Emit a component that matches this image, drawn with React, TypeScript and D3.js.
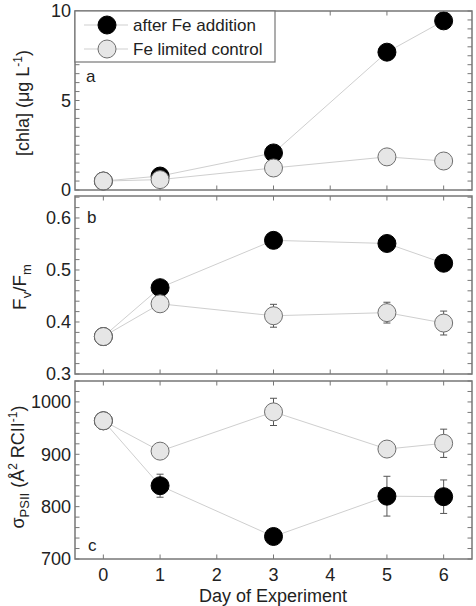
import React from "react";
import * as d3 from "d3";

const days = [0, 1, 3, 5, 6];
const xTicks = [0, 1, 2, 3, 4, 5, 6];
const seriesNames = ["after Fe addition", "Fe limited control"];

const chlaFe = [0.5, 0.78, 2.07, 7.7, 9.45];
const chlaCtl = [0.5, 0.58, 1.23, 1.85, 1.62];

const fvfmFe = [0.372, 0.466, 0.557, 0.551, 0.513];
const fvfmCtl = [0.372, 0.435, 0.412, 0.418, 0.398];
const fvfmFeErr = [0, 0, 0, 0, 0];
const fvfmCtlErr = [0, 0, 0.022, 0.02, 0.023];

const sigFe = [964, 840, 743, 820, 819];
const sigCtl = [964, 906, 981, 910, 921];
const sigFeErr = [0, 22, 0, 38, 32];
const sigCtlErr = [0, 0, 26, 0, 27];

const chlaTicks = [0, 5, 10];
const fvfmTicks = [0.3, 0.4, 0.5, 0.6];
const sigTicks = [700, 800, 900, 1000];

const W = 476;
const H = 606;
const L = 75;
const R = 472;
const FONT = "Liberation Sans, Arial, sans-serif";
const FRAME = "#777";
const LINE = "#cfcfcf";
const GRAYFILL = "#e6e6e6";
const GRAYSTROKE = "#6e6e6e";
const TXT = "#222";

const x = d3.scaleLinear().domain([-0.5, 6.5]).range([L, R]);

type PanelProps = {
  top: number;
  bottom: number;
  domain: [number, number];
  ticks: number[];
  minorStep: number;
  fmt: (v: number) => string;
  fe: number[];
  ctl: number[];
  feErr?: number[];
  ctlErr?: number[];
  letter: string;
  letterX: number;
  letterY: number;
};

function Panel(p: PanelProps) {
  const y = d3.scaleLinear().domain(p.domain).range([p.bottom, p.top]);
  const minors = d3
    .range(Math.ceil(p.domain[0] / p.minorStep - 1e-9), Math.floor(p.domain[1] / p.minorStep + 1e-9) + 1)
    .map((i) => i * p.minorStep);
  const line = d3
    .line<number>()
    .x((_, i) => x(days[i]))
    .y((d) => y(d));
  const tl = 4.5;
  const err = (vals: number[], errs: number[] | undefined, key: string) =>
    errs
      ? vals.map((v, i) =>
          errs[i] > 0 ? (
            <g key={key + i} stroke="#555" strokeWidth={1}>
              <line x1={x(days[i])} x2={x(days[i])} y1={y(v - errs[i])} y2={y(v + errs[i])} />
              <line x1={x(days[i]) - 3.5} x2={x(days[i]) + 3.5} y1={y(v - errs[i])} y2={y(v - errs[i])} />
              <line x1={x(days[i]) - 3.5} x2={x(days[i]) + 3.5} y1={y(v + errs[i])} y2={y(v + errs[i])} />
            </g>
          ) : null
        )
      : null;
  return (
    <g>
      {minors.map((v, i) => (
        <g key={"m" + i} stroke={FRAME} strokeWidth={1}>
          <line x1={L} x2={L + tl} y1={y(v)} y2={y(v)} />
          <line x1={R} x2={R - tl} y1={y(v)} y2={y(v)} />
        </g>
      ))}
      {xTicks.map((t) => (
        <g key={"x" + t} stroke={FRAME} strokeWidth={1}>
          <line x1={x(t)} x2={x(t)} y1={p.top} y2={p.top + tl} />
          <line x1={x(t)} x2={x(t)} y1={p.bottom} y2={p.bottom - tl} />
        </g>
      ))}
      {p.ticks.map((t) => (
        <text key={"t" + t} x={L - 4} y={y(t)} dy="0.36em" textAnchor="end" fontSize={18} fontFamily={FONT} fill={TXT}>
          {p.fmt(t)}
        </text>
      ))}
      <path d={line(p.fe) || ""} fill="none" stroke={LINE} strokeWidth={1} />
      <path d={line(p.ctl) || ""} fill="none" stroke={LINE} strokeWidth={1} />
      {err(p.fe, p.feErr, "fe")}
      {err(p.ctl, p.ctlErr, "ctl")}
      {p.fe.map((v, i) => (
        <circle key={"f" + i} cx={x(days[i])} cy={y(v)} r={9} fill="#000" stroke="#000" strokeWidth={1} />
      ))}
      {p.ctl.map((v, i) => (
        <circle key={"c" + i} cx={x(days[i])} cy={y(v)} r={9} fill={GRAYFILL} stroke={GRAYSTROKE} strokeWidth={1} />
      ))}
      <text x={p.letterX} y={p.letterY} dy="0.36em" fontSize={17} fontFamily={FONT} fill={TXT}>
        {p.letter}
      </text>
      <rect x={L} y={p.top} width={R - L} height={p.bottom - p.top} fill="none" stroke={FRAME} strokeWidth={1.5} />
    </g>
  );
}

export default function App() {
  return (
    <svg width={W} height={H} style={{ display: "block", position: "absolute", left: 0, top: 0 }}>
      <rect width={W} height={H} fill="#fff" />
      <Panel
        top={11}
        bottom={190}
        domain={[0, 10]}
        ticks={chlaTicks}
        minorStep={0.5}
        fmt={(v) => String(v)}
        fe={chlaFe}
        ctl={chlaCtl}
        letter="a"
        letterX={86}
        letterY={76}
      />
      <Panel
        top={196}
        bottom={374}
        domain={[0.3, 0.6423]}
        ticks={fvfmTicks}
        minorStep={0.02}
        fmt={(v) => v.toFixed(1)}
        fe={fvfmFe}
        ctl={fvfmCtl}
        feErr={fvfmFeErr}
        ctlErr={fvfmCtlErr}
        letter="b"
        letterX={87}
        letterY={217}
      />
      <Panel
        top={381}
        bottom={559}
        domain={[700, 1040]}
        ticks={sigTicks}
        minorStep={20}
        fmt={(v) => String(v)}
        fe={sigFe}
        ctl={sigCtl}
        feErr={sigFeErr}
        ctlErr={sigCtlErr}
        letter="c"
        letterX={88}
        letterY={545}
      />
      <g fontFamily={FONT} fontSize={17} fill={TXT}>
        <rect x={L} y={11} width={200} height={51} fill="#fff" stroke={FRAME} strokeWidth={1.2} />
        {seriesNames.map((name, i) => (
          <g key={name}>
            <line x1={84} x2={128} y1={25 + i * 24} y2={25 + i * 24} stroke={LINE} strokeWidth={1} />
            <circle
              cx={107}
              cy={25 + i * 24}
              r={9}
              fill={i === 0 ? "#000" : GRAYFILL}
              stroke={i === 0 ? "#000" : GRAYSTROKE}
              strokeWidth={1}
            />
            <text x={133} y={25 + i * 24} dy="0.36em">
              {name}
            </text>
          </g>
        ))}
      </g>
      {xTicks.map((t) => (
        <text key={"xl" + t} x={x(t)} y={581} textAnchor="middle" fontSize={18} fontFamily={FONT} fill={TXT}>
          {t}
        </text>
      ))}
      <text x={273} y={602} textAnchor="middle" fontSize={18} fontFamily={FONT} fill={TXT}>
        Day of Experiment
      </text>
      <text transform="translate(29,103) rotate(-90)" textAnchor="middle" fontSize={18} fontFamily={FONT} fill={TXT}>
        [chla] (μg L
        <tspan dy={-7} fontSize={12}>-1</tspan>
        <tspan dy={7}>)</tspan>
      </text>
      <text transform="translate(26,287) rotate(-90)" textAnchor="middle" fontSize={19} fontFamily={FONT} fill={TXT}>
        F<tspan dy={5} fontSize={13}>v</tspan>
        <tspan dy={-5}>/F</tspan>
        <tspan dy={5} fontSize={13}>m</tspan>
      </text>
      <text transform="translate(24,467) rotate(-90)" textAnchor="middle" fontSize={18} fontFamily={FONT} fill={TXT}>
        σ<tspan dy={5} fontSize={13}>PSII</tspan>
        <tspan dy={-5}> (Å</tspan>
        <tspan dy={-7} fontSize={12}>2</tspan>
        <tspan dy={7}> RCII</tspan>
        <tspan dy={-7} fontSize={12}>-1</tspan>
        <tspan dy={7}>)</tspan>
      </text>
    </svg>
  );
}
